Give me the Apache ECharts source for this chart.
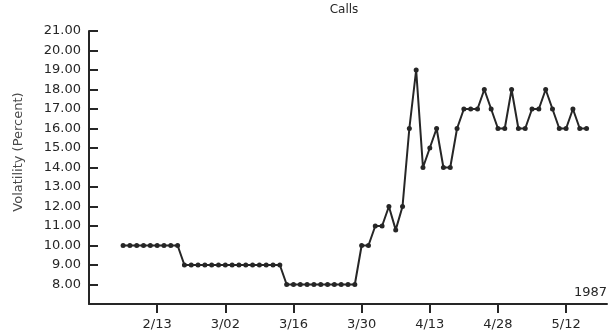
<!DOCTYPE html>
<html>
<head>
<meta charset="utf-8">
<script src="https://cdn.jsdelivr.net/npm/echarts@6/dist/echarts.min.js"></script>
<style>
  body { margin: 0; background: #fff; }
  #chart { width: 610px; height: 333px; }
</style>
</head>
<body>
<div id="chart"></div>
<script>
// trading days, 1987
const dates = [
  '2/06', '2/09', '2/10', '2/11', '2/12', '2/13', '2/17', '2/18', '2/19', '2/20',
  '2/23', '2/24', '2/25', '2/26', '2/27', '3/02', '3/03', '3/04', '3/05', '3/06',
  '3/09', '3/10', '3/11', '3/12', '3/13', '3/16', '3/17', '3/18', '3/19', '3/20',
  '3/23', '3/24', '3/25', '3/26', '3/27', '3/30', '3/31', '4/01', '4/02', '4/03',
  '4/06', '4/07', '4/08', '4/09', '4/10', '4/13', '4/14', '4/15', '4/16', '4/20',
  '4/21', '4/22', '4/23', '4/24', '4/27', '4/28', '4/29', '4/30', '5/01', '5/04',
  '5/05', '5/06', '5/07', '5/08', '5/11', '5/12', '5/13', '5/14', '5/15'
]
const volatility = [
  10, 10, 10, 10, 10, 10, 10, 10, 10,
  9, 9, 9, 9, 9, 9, 9, 9, 9, 9, 9, 9, 9, 9, 9,
  8, 8, 8, 8, 8, 8, 8, 8, 8, 8, 8,
  10, 10, 11, 11, 12, 10.8, 12, 16, 19, 14,
  15, 16, 14, 14, 16, 17, 17, 17, 18, 17,
  16, 16, 18, 16, 16, 17, 17, 18, 17, 16,
  16, 17, 16, 16
]
const tickDates = ['2/13', '3/02', '3/16', '3/30', '4/13', '4/28', '5/12']
const tickIndex = tickDates.map(d => dates.indexOf(d))

const font = 'DejaVu Sans'
const ink = '#262626'

const chart = echarts.init(document.getElementById('chart'))
const option = {
  animation: false,
  grid: { left: 89, right: 3, top: 31, bottom: 29 },
  graphic: [
    {
      type: 'text', x: 344, y: 10,
      style: { text: 'Calls', font: '12px ' + font, fill: ink, align: 'center', verticalAlign: 'middle' }
    },
    {
      type: 'text', x: 607, y: 293,
      style: { text: '1987', font: '13px ' + font, fill: ink, align: 'right', verticalAlign: 'middle' }
    },
    {
      type: 'text', x: 19, y: 152, rotation: Math.PI / 2,
      style: { text: 'Volatility (Percent)', font: '13px ' + font, fill: '#4a4a4a', align: 'center', verticalAlign: 'middle' }
    }
  ],
  xAxis: {
    type: 'value',
    min: -5,
    max: 71,
    splitLine: { show: false },
    axisLine: { onZero: false, lineStyle: { color: ink, width: 2 } },
    axisTick: { customValues: tickIndex, length: 9, lineStyle: { color: ink, width: 2 } },
    axisLabel: {
      customValues: tickIndex,
      margin: 14,
      color: ink,
      fontFamily: font,
      fontSize: 13,
      formatter: v => dates[v]
    }
  },
  yAxis: {
    type: 'value',
    min: 7,
    max: 21,
    interval: 1,
    splitLine: { show: false },
    axisLine: { show: true, onZero: false, lineStyle: { color: ink, width: 2 } },
    axisTick: { inside: true, length: 9, lineStyle: { color: ink, width: 2 } },
    axisLabel: {
      margin: 8,
      color: ink,
      fontFamily: font,
      fontSize: 13,
      formatter: v => (v === 7 ? '' : v.toFixed(2))
    }
  },
  series: [
    {
      type: 'line',
      data: volatility.map((v, i) => [i, v]),
      symbol: 'circle',
      symbolSize: 5,
      lineStyle: { color: ink, width: 2 },
      itemStyle: { color: ink }
    }
  ]
}
chart.setOption(option)
</script>
</body>
</html>
